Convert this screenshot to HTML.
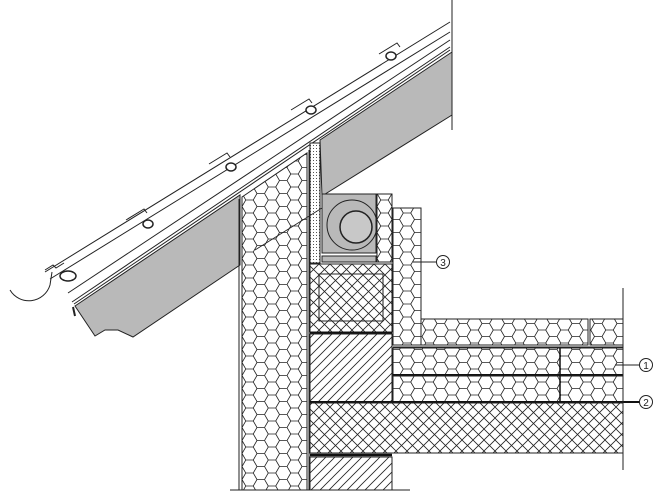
<!DOCTYPE html>
<html><head><style>html,body{margin:0;padding:0;background:#fff;}svg{display:block}</style></head>
<body>
<svg width="671" height="502" viewBox="0 0 671 502" xmlns="http://www.w3.org/2000/svg">
<defs>
<pattern id="hex" patternUnits="userSpaceOnUse" width="22.5" height="13" x="242" y="200">
<path d="M0,6.5 L3.75,0 L11.25,0 L15,6.5 L11.25,13 L3.75,13 Z M15,6.5 L22.5,6.5" fill="none" stroke="#222" stroke-width="0.8"/>
</pattern>
<pattern id="cross" patternUnits="userSpaceOnUse" width="11" height="11">
<path d="M0,0 L11,11 M11,0 L0,11" stroke="#222" stroke-width="0.8"/>
</pattern>
<pattern id="diag" patternUnits="userSpaceOnUse" width="9" height="9">
<path d="M0,9 L9,0 M-2,2 L2,-2 M7,11 L11,7" stroke="#222" stroke-width="0.8"/>
</pattern>
<pattern id="dots" patternUnits="userSpaceOnUse" width="3" height="3">
<rect width="3" height="3" fill="#fff"/><rect x="1" y="1" width="1" height="1" fill="#555"/>
</pattern>
</defs>
<rect width="671" height="502" fill="#fff"/>
<polygon points="75,306 240,195 240,265 133,337 118,330 105,330 95,336" fill="#b9b9b9" stroke="#222" stroke-width="1"/>
<polygon points="320,140 452,52 452,115 322,196" fill="#b9b9b9" stroke="#222" stroke-width="1"/>
<g stroke="#222" stroke-width="1" fill="none">
<line x1="45" y1="272" x2="450" y2="22"/>
<line x1="50" y1="279" x2="450" y2="32"/>
<line x1="68" y1="293" x2="450" y2="40"/>
<line x1="72" y1="302" x2="450" y2="47"/>
<line x1="74" y1="304" x2="450" y2="50"/>
<line x1="452" y1="0" x2="452" y2="130"/>
<path d="M45,270 l8,-5 l3,3 l8,-5 M126,220 l18,-11 l3,4 M209,164 l18,-11 l3,4 M291,110 l18,-11 l3,4 M379,54 l18,-11 l3,4"/>
<path d="M10,290 A22,22 0 0 0 50,285 L52,272"/>
<path d="M73,307 L75,316" stroke-width="2"/>
</g>
<g fill="#fff" stroke="#222" stroke-width="1.5">
<ellipse cx="68" cy="276" rx="8" ry="5"/>
<ellipse cx="148" cy="224" rx="5" ry="4"/>
<ellipse cx="231" cy="167" rx="5" ry="4"/>
<ellipse cx="311" cy="110" rx="5" ry="4"/>
<ellipse cx="391" cy="56" rx="5" ry="4"/>
</g>
<polygon points="242,197 307,153 307,490 242,490" fill="url(#hex)" stroke="#222"/>
<line x1="239" y1="199" x2="239" y2="490" stroke="#222"/>
<line x1="309" y1="150" x2="309" y2="490" stroke="#222"/>
<rect x="310" y="143" width="10" height="120" fill="url(#dots)" stroke="#222"/>
<rect x="322" y="194" width="54" height="59" fill="#b9b9b9" stroke="#222"/>
<circle cx="352" cy="225" r="25" fill="none" stroke="#222"/>
<circle cx="356" cy="227" r="16" fill="#c8c8c8" stroke="#222" stroke-width="1.5"/>
<rect x="322" y="256" width="54" height="6" fill="#b9b9b9" stroke="#222"/>
<rect x="377" y="194" width="15" height="68" fill="url(#hex)" stroke="#222"/>
<rect x="310" y="264" width="82" height="68" fill="url(#cross)" stroke="#222"/>
<rect x="319" y="274" width="64" height="47" fill="none" stroke="#222"/>
<line x1="310" y1="333" x2="392" y2="333" stroke="#111" stroke-width="2.5"/>
<rect x="310" y="334" width="82" height="68" fill="url(#diag)" stroke="#222"/>
<rect x="393" y="208" width="28" height="137" fill="url(#hex)" stroke="#222"/>
<rect x="421" y="319" width="167" height="26" fill="url(#hex)" stroke="#222"/>
<rect x="590" y="319" width="33" height="26" fill="url(#hex)" stroke="#222"/>
<line x1="393" y1="347" x2="623" y2="347" stroke="#222"/>
<rect x="393" y="348" width="230" height="27" fill="url(#hex)" stroke="#222"/>
<line x1="393" y1="375" x2="623" y2="375" stroke="#111" stroke-width="2"/>
<rect x="393" y="376" width="230" height="26" fill="url(#hex)" stroke="#222"/>
<line x1="560" y1="348" x2="560" y2="402" stroke="#111" stroke-width="1.5"/>
<line x1="310" y1="402" x2="640" y2="402" stroke="#111" stroke-width="2"/>
<rect x="310" y="403" width="313" height="50" fill="url(#cross)" stroke="#222"/>
<line x1="310" y1="455" x2="392" y2="455" stroke="#111" stroke-width="2.5"/>
<rect x="310" y="457" width="82" height="33" fill="url(#diag)" stroke="#222"/>
<line x1="230" y1="490" x2="410" y2="490" stroke="#222"/>
<line x1="623" y1="288" x2="623" y2="470" stroke="#222"/>
<line x1="255" y1="250" x2="322" y2="208" stroke="#222" stroke-width="0.8"/>
<g stroke="#222" fill="none">
<line x1="413" y1="262" x2="436" y2="262"/>
<line x1="615" y1="365" x2="640" y2="365"/>
<circle cx="443" cy="262" r="6.5"/>
<circle cx="646" cy="365" r="6.5"/>
<circle cx="646" cy="402" r="6.5"/>
</g>
<g font-family="Liberation Sans, sans-serif" font-size="10" text-anchor="middle" fill="#222">
<text x="443" y="266">3</text>
<text x="646" y="369">1</text>
<text x="646" y="406">2</text>
</g>
</svg>
</body></html>
